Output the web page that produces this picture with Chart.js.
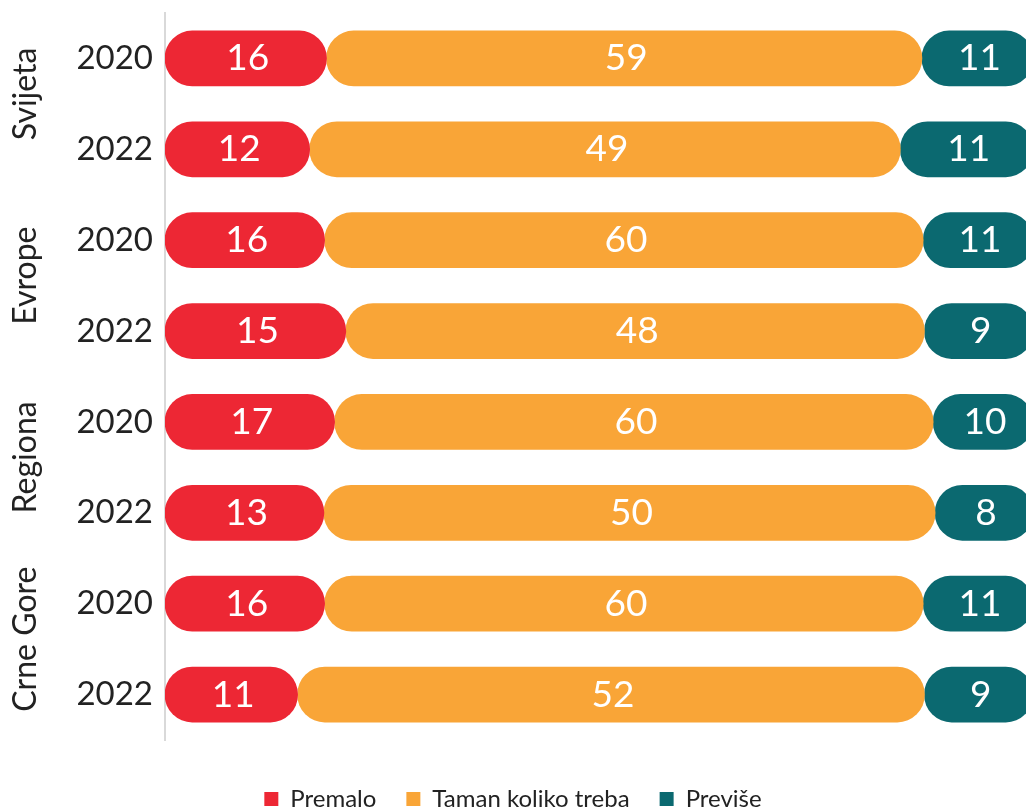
<!DOCTYPE html>
<html>
<head>
<meta charset="utf-8">
<script src="https://cdn.jsdelivr.net/npm/chart.js@4/dist/chart.umd.min.js"></script>
<style>
  html, body { margin: 0; padding: 0; background: #ffffff; overflow: hidden; }
  #wrap { width: 1026px; height: 812px; }
</style>
</head>
<body>
<div id="wrap"><canvas id="c" width="1026" height="812"></canvas></div>
<script>
// ---- data ----
const groups = ['Svijeta', 'Evrope', 'Regiona', 'Crne Gore'];
const years = ['2020', '2022'];
const seriesNames = ['Premalo', 'Taman koliko treba', 'Previše'];
const premalo = [16, 12, 16, 15, 17, 13, 16, 11];
const taman   = [59, 49, 60, 48, 60, 50, 60, 52];
const previse = [11, 11, 11,  9, 10,  8, 11,  9];
const colors = ['#ED2734', '#F9A537', '#0B6970'];

// category labels: one per row (group x year)
const rowLabels = [];
groups.forEach(() => years.forEach(y => rowLabels.push(y)));

// each row is drawn as shares of its own total (100% bars), as floating ranges
const raw = [premalo, taman, previse];
const ranges = raw.map(() => []);
for (let i = 0; i < rowLabels.length; i++) {
  const total = premalo[i] + taman[i] + previse[i];
  let start = 0;
  raw.forEach((arr, s) => {
    const end = start + arr[i] / total * 100;
    ranges[s].push([start, end]);
    start = end;
  });
}

const FONT = 'Lato, "Open Sans", sans-serif';

const valueLabels = {
  id: 'valueLabels',
  afterDatasetsDraw(chart) {
    const ctx = chart.ctx;
    ctx.save();
    ctx.fillStyle = '#ffffff';
    ctx.font = '37px ' + FONT;
    ctx.textAlign = 'center';
    ctx.textBaseline = 'middle';
    chart.data.datasets.forEach((ds, di) => {
      const meta = chart.getDatasetMeta(di);
      meta.data.forEach((el, i) => {
        const cx = (el.x + el.base) / 2 + 2;
        ctx.fillText(String(raw[di][i]), cx, el.y);
      });
    });
    ctx.restore();
  }
};

const groupLabels = {
  id: 'groupLabels',
  afterDraw(chart) {
    const ctx = chart.ctx;
    const y = chart.scales.y;
    ctx.save();
    ctx.fillStyle = '#222222';
    ctx.font = '32px ' + FONT;
    ctx.textAlign = 'center';
    ctx.textBaseline = 'alphabetic';
    groups.forEach((g, gi) => {
      const a = y.getPixelForValue(gi * years.length);
      const b = y.getPixelForValue(gi * years.length + years.length - 1);
      const cy = (a + b) / 2 - 10;
      ctx.save();
      ctx.translate(36, cy);
      ctx.rotate(-Math.PI / 2);
      ctx.fillText(g, 0, 0);
      ctx.restore();
    });
    ctx.restore();
  }
};

function draw() {
  new Chart(document.getElementById('c'), {
    type: 'bar',
    data: {
      labels: rowLabels,
      datasets: seriesNames.map((name, s) => ({
        label: name,
        data: ranges[s],
        backgroundColor: colors[s],
        borderWidth: 0,
        borderSkipped: false,
        borderRadius: 40,
        barThickness: 55,
        grouped: false
      }))
    },
    options: {
      indexAxis: 'y',
      responsive: false,
      animation: false,
      devicePixelRatio: 1,
      layout: { padding: { left: 0, top: 13, right: 0, bottom: -9 } },
      scales: {
        x: {
          min: 0,
          max: 99.2,
          display: true,
          grid: { display: false },
          border: { display: false },
          ticks: { display: false },
          afterFit(scale) {
            scale.height = 17;
            scale.paddingLeft = 0; scale.paddingRight = 0;
          }
        },
        y: {
          grid: { display: false },
          border: { display: true, color: '#d9d9d9', width: 2 },
          ticks: {
            color: '#222222',
            font: { family: FONT, size: 33 },
            crossAlign: 'near',
            padding: 4
          },
          afterFit(scale) {
            scale.width = 165;
            scale.paddingTop = 0; scale.paddingBottom = 0;
          }
        }
      },
      plugins: {
        legend: {
          position: 'bottom',
          labels: {
            color: '#222222',
            font: { family: FONT, size: 24 },
            boxWidth: 14,
            boxHeight: 14,
            padding: 30
          }
        },
        tooltip: { enabled: false }
      }
    },
    plugins: [valueLabels, groupLabels]
  });
}

if (document.fonts && document.fonts.load) {
  Promise.all([
    document.fonts.load('33px Lato'),
    document.fonts.load('37px Lato')
  ]).then(draw, draw);
} else {
  draw();
}
</script>
</body>
</html>
